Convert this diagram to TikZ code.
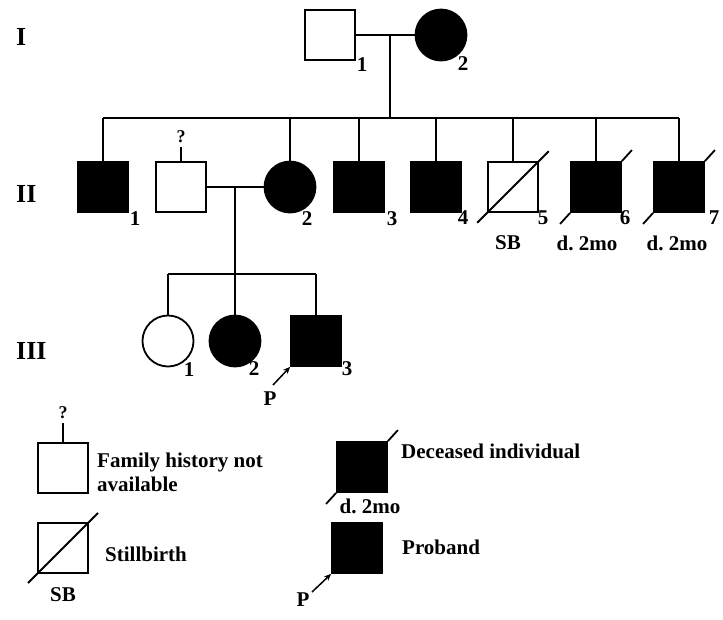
\documentclass[tikz,border=0pt]{standalone}
\usepackage{fontspec}
\setmainfont{Liberation Serif}
\usepackage{tikz}
\usetikzlibrary{arrows.meta, positioning, calc}
\frenchspacing
\tikzset{
    sq_open/.style={
        rectangle, draw=black, line width=1.8pt, fill=white,
        minimum width=50pt, minimum height=50pt, inner sep=0pt
    },
    sq_aff/.style={
        sq_open, fill=black
    },
    circ_open/.style={
        circle, draw=black, line width=1.8pt, fill=white,
        minimum size=51pt, inner sep=0pt
    },
    circ_aff/.style={
        circ_open, fill=black
    },
    ped_line/.style={
        draw=black, line width=1.8pt
    },
    pro_arrow/.style={
        -{Stealth[length=7pt, width=6pt]}, draw=black, line width=1.5pt
    },
    num_lbl/.style={
        font=\fontsize{21}{24}\selectfont\bfseries, inner sep=0pt
    },
    gen_lbl/.style={
        font=\fontsize{26}{30}\selectfont\bfseries, inner sep=0pt, anchor=west
    },
    qm_lbl/.style={
        font=\fontsize{18}{20}\selectfont\bfseries, inner sep=0pt
    },
    leg_txt/.style={
        font=\fontsize{21}{24}\selectfont\bfseries, inner sep=0pt, anchor=west, align=left
    }
}

\begin{document}
\begin{tikzpicture}[x=1pt, y=-1pt]
\useasboundingbox (0,0) rectangle (723,619);

% generation numbers
\node[gen_lbl] (genI) at (16,37) {I};
\node[gen_lbl] (genII) at (16,194) {II};
\node[gen_lbl] (genIII) at (16,351) {III};

% generation I
\node[sq_open] (I1) at (330,35) {};
\node[circ_aff] (I2) at (441,35) {};
\node[num_lbl] (nI1) at (362,65) {1};
\node[num_lbl] (nI2) at (463,64) {2};
\draw[ped_line] (I1.east) -- (I2.west);
\coordinate (mI) at (390,35);
\coordinate (sI) at (390,118);
\draw[ped_line] (mI) -- (sI);

% generation II
\node[sq_aff] (II1) at (103,187) {};
\node[sq_open] (IIsp) at (181,187) {};
\node[circ_aff] (II2) at (290,187) {};
\node[sq_aff] (II3) at (359,187) {};
\node[sq_aff] (II4) at (436,187) {};
\node[sq_open] (II5) at (513,187) {};
\node[sq_aff] (II6) at (596,187) {};
\node[sq_aff] (II7) at (679,187) {};

\node[num_lbl] (nII1) at (135,219) {1};
\node[num_lbl] (nII2) at (307,219) {2};
\node[num_lbl] (nII3) at (392,219) {3};
\node[num_lbl] (nII4) at (463,218) {4};
\node[num_lbl] (nII5) at (543,218) {5};
\node[num_lbl] (nII6) at (625,218) {6};
\node[num_lbl] (nII7) at (714,218) {7};

\node[num_lbl] (sbII5) at (508,243) {SB};
\node[num_lbl] (dII6) at (587,243) {d. 2mo};
\node[num_lbl] (dII7) at (677,243) {d. 2mo};

\draw[ped_line] (II1 |- sI) -- (II7 |- sI);
\foreach \kid in {II1, II2, II3, II4, II5, II6, II7}
    \draw[ped_line] (\kid.north) -- (\kid |- sI);

% unknown history
\node[qm_lbl] (qIIsp) at (181,137) {?};
\draw[ped_line] (qIIsp.south) ++(0,4) -- (IIsp.north);

% stillbirth and deceased marks
\draw[ped_line, shorten <=-14pt, shorten >=-14pt] (II5.south west) -- (II5.north east);
\draw[ped_line] (II6.north east) -- ++(10,-11);
\draw[ped_line] (II6.south west) -- ++(-10,11);
\draw[ped_line] (II7.north east) -- ++(10,-11);
\draw[ped_line] (II7.south west) -- ++(-10,11);

\draw[ped_line] (IIsp.east) -- (II2.west);
\coordinate (mII) at (235,187);
\coordinate (sII) at (235,274);
\draw[ped_line] (mII) -- (sII);

% generation III
\node[circ_open] (III1) at (168,341) {};
\node[circ_aff] (III2) at (235,341) {};
\node[sq_aff] (III3) at (316,341) {};
\node[num_lbl] (nIII1) at (189,370) {1};
\node[num_lbl] (nIII2) at (254,369) {2};
\node[num_lbl] (nIII3) at (347,369) {3};

\draw[ped_line] (III1 |- sII) -- (III3 |- sII);
\foreach \kid in {III1, III2, III3}
    \draw[ped_line] (\kid.north) -- (\kid |- sII);

\node[num_lbl] (pIII3) at (270,399) {P};
\coordinate (aIII3) at (273,385);
\draw[pro_arrow] (aIII3) -- (III3.south west);

% legend
\node[sq_open] (legfh) at (63,468) {};
\node[qm_lbl] (qlegfh) at (63,413) {?};
\draw[ped_line] (qlegfh.south) ++(0,4) -- (legfh.north);
\node[leg_txt] (tfh) at (97,472) {Family history not\\available};

\node[sq_open] (legsb) at (63,548) {};
\draw[ped_line, shorten <=-13pt, shorten >=-13pt] (legsb.south west) -- (legsb.north east);
\node[num_lbl] (sblegsb) at (63,595) {SB};
\node[leg_txt] (tsb) at (105,554) {Stillbirth};

\node[sq_aff] (legd) at (362,467) {};
\draw[ped_line] (legd.north east) -- ++(10,-11);
\draw[ped_line] (legd.south west) -- ++(-10,11);
\node[num_lbl] (dlegd) at (370,506) {d. 2mo};
\node[leg_txt] (td) at (401,451) {Deceased individual};

\node[sq_aff] (legp) at (357,548) {};
\node[num_lbl] (plegp) at (303,600) {P};
\coordinate (alegp) at (312,592);
\draw[pro_arrow] (alegp) -- (legp.south west);
\node[leg_txt] (tp) at (402,547) {Proband};
\end{tikzpicture}
\end{document}
